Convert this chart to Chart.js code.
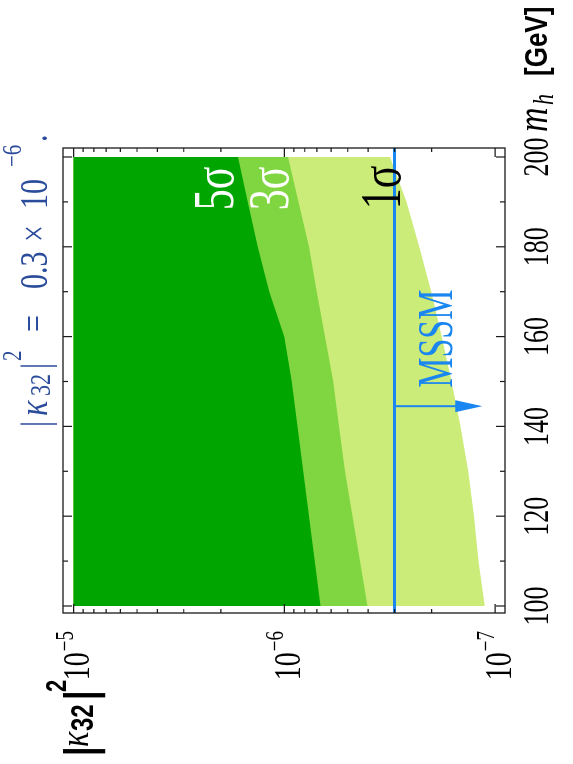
<!DOCTYPE html>
<html><head><meta charset="utf-8">
<script src="https://cdn.jsdelivr.net/npm/chart.js@4/dist/chart.umd.min.js"></script>
<style>
html,body{margin:0;padding:0;background:#fff;overflow:hidden;width:573px;height:764px;}
#wrap{position:absolute;left:0;top:0;width:764px;height:573px;transform-origin:0 0;transform:translate(0px,764px) rotate(-90deg);}
canvas{display:block;}
</style></head><body>
<div id="wrap"><canvas id="c" width="764" height="573"></canvas></div>
<script>
// ---- data (original, un-rotated orientation: x = m_h, y = |kappa32|^2) ----
const mh      = [100, 110, 120, 130, 140, 150, 160, 170, 180, 190, 200];
const sigma5  = [6.74e-7, 7.18e-7, 7.64e-7, 8.14e-7, 8.66e-7, 9.22e-7, 1.00e-6, 1.18e-6, 1.335e-6, 1.49e-6, 1.66e-6];
const sigma3  = [4.03e-7, 4.37e-7, 4.75e-7, 5.16e-7, 5.51e-7, 5.86e-7, 6.41e-7, 7.01e-7, 7.63e-7, 8.56e-7, 9.60e-7];
const sigma1  = [1.12e-7, 1.20e-7, 1.26e-7, 1.34e-7, 1.46e-7, 1.61e-7, 1.79e-7, 2.01e-7, 2.29e-7, 2.63e-7, 3.15e-7];
const kappaTop = 1e-5;
const mssmKappa = 3e-7;
const arrowMh = 144.5, arrowTo = 1.15e-7;
const mhMajor = [100, 120, 140, 160, 180, 200];
const mhMinor = [110, 130, 150, 170, 190];
const mhLabels = ['100', '120', '140', '160', '180', '200'];
const kappaExp = [-5, -6, -7];
const kappaLabels = ['\u22125', '\u22126', '\u22127'];

const C_DARK = '#00a500', C_MED = '#80d640', C_LIGHT = '#cbec79', C_BLUE = '#1a86f0';
const SERIF = "'Liberation Serif', 'DejaVu Serif', serif";
const SANS = "'Liberation Sans', Arial, sans-serif";

function pts(vals) { return mh.map((m, i) => ({x: m, y: vals[i]})); }

function txt(ctx, s, x, y, font, color, align, sy) {
  ctx.save();
  ctx.font = font; ctx.fillStyle = color; ctx.textAlign = align || 'left'; ctx.textBaseline = 'alphabetic';
  ctx.translate(x, y); ctx.scale(1, sy || 1); ctx.fillText(s, 0, 0);
  const w = ctx.measureText(s).width;
  ctx.restore();
  return w;
}

const decor = {
  id: 'decor',
  afterDatasetsDraw(chart) {
    const ctx = chart.ctx, a = chart.chartArea, xs = chart.scales.x, ys = chart.scales.y;
    // MSSM line
    const yb = ys.getPixelForValue(mssmKappa);
    ctx.save();
    ctx.strokeStyle = C_BLUE; ctx.lineWidth = 3;
    ctx.beginPath(); ctx.moveTo(a.left, yb); ctx.lineTo(a.right, yb); ctx.stroke();
    // arrow
    const xa = xs.getPixelForValue(arrowMh), ya = ys.getPixelForValue(arrowTo);
    ctx.lineWidth = 2;
    ctx.beginPath(); ctx.moveTo(xa, yb); ctx.lineTo(xa, ya - 20); ctx.stroke();
    ctx.fillStyle = C_BLUE;
    ctx.beginPath(); ctx.moveTo(xa, ya); ctx.lineTo(xa - 6, ya - 27); ctx.lineTo(xa + 6, ya - 27); ctx.closePath(); ctx.fill();
    ctx.restore();

    // in-plot labels
    txt(ctx, '5\u03c3', xs.getPixelForValue(193), ys.getPixelForValue(1.75e-6), '42px ' + SERIF, '#fff', 'center', 1.35);
    txt(ctx, '3\u03c3', xs.getPixelForValue(193), ys.getPixelForValue(9.6e-7), '42px ' + SERIF, '#fff', 'center', 1.35);
    txt(ctx, '1\u03c3', xs.getPixelForValue(193.2), ys.getPixelForValue(2.82e-7), '42px ' + SERIF, '#000', 'center', 1.35);
    txt(ctx, 'MSSM', xs.getPixelForValue(148.6), ys.getPixelForValue(1.6e-7), '34px ' + SERIF, C_BLUE, 'left', 1.5);

    // frame
    ctx.save();
    ctx.strokeStyle = '#1a1a1a'; ctx.lineWidth = 1.3;
    ctx.strokeRect(a.left, a.top, a.right - a.left, a.bottom - a.top);
    ctx.lineWidth = 1.2;
    ctx.beginPath();
    mhMajor.forEach(m => { const x = xs.getPixelForValue(m);
      ctx.moveTo(x, a.bottom); ctx.lineTo(x, a.bottom - 9); ctx.moveTo(x, a.top); ctx.lineTo(x, a.top + 9); });
    mhMinor.forEach(m => { const x = xs.getPixelForValue(m);
      ctx.moveTo(x, a.bottom); ctx.lineTo(x, a.bottom - 5); ctx.moveTo(x, a.top); ctx.lineTo(x, a.top + 5); });
    kappaExp.forEach(e => { const y = ys.getPixelForValue(Math.pow(10, e));
      ctx.moveTo(a.left, y); ctx.lineTo(a.left + 9, y); ctx.moveTo(a.right, y); ctx.lineTo(a.right - 9, y); });
    [-7, -6].forEach(e => { for (let k = 2; k <= 9; k++) { const y = ys.getPixelForValue(k * Math.pow(10, e));
      ctx.moveTo(a.left, y); ctx.lineTo(a.left + 4, y); ctx.moveTo(a.right, y); ctx.lineTo(a.right - 4, y); } });
    ctx.stroke();
    ctx.restore();

    // tick labels m_h
    mhMajor.forEach((m, i) => txt(ctx, mhLabels[i], xs.getPixelForValue(m), 548, '26px ' + SERIF, '#000', 'center', 1.4));
    // tick labels kappa
    kappaExp.forEach((e, i) => {
      const y = ys.getPixelForValue(Math.pow(10, e));
      const r = a.left - 18;
      ctx.save(); ctx.font = '19px ' + SERIF; const ws = ctx.measureText(kappaLabels[i]).width; ctx.restore();
      txt(ctx, kappaLabels[i], r, y - 1, '19px ' + SERIF, '#000', 'right', 1.35);
      txt(ctx, '10', r - ws - 1, y + 15.5, '28px ' + SERIF, '#000', 'right', 1.35);
    });

    // axis label m_h [GeV]
    txt(ctx, 'm', 632, 547, 'italic 34px ' + SERIF, '#000', 'left', 1.3);
    txt(ctx, 'h', 659, 553, 'italic 22px ' + SERIF, '#000', 'left', 1.3);
    txt(ctx, '[GeV]', 688, 547, 'bold 26px ' + SANS, '#000', 'left', 1.2);

    // axis label |kappa32|^2
    txt(ctx, '|', 8, 95, 'bold 34px ' + SANS, '#000', 'left', 1.3);
    txt(ctx, '\u03ba', 17, 88, 'italic 32px ' + SERIF, '#000', 'left', 1.3);
    txt(ctx, '32', 33, 93, 'bold 24px ' + SANS, '#000', 'left', 1.3);
    txt(ctx, '|', 64, 95, 'bold 34px ' + SANS, '#000', 'left', 1.3);
    txt(ctx, '2', 72, 66, 'bold 22px ' + SANS, '#000', 'left', 1.3);

    // title
    const TC = '#2b4c9b';
    txt(ctx, '|', 337, 48, '30px ' + SERIF, TC, 'left', 1.3);
    txt(ctx, '\u03ba', 348, 47, 'italic 32px ' + SERIF, TC, 'left', 1.3);
    txt(ctx, '32', 368, 50, '22px ' + SERIF, TC, 'left', 1.3);
    txt(ctx, '|', 395, 48, '30px ' + SERIF, TC, 'left', 1.3);
    txt(ctx, '2', 403, 21, '21px ' + SERIF, TC, 'left', 1.3);
    txt(ctx, '=', 432, 47, '30px ' + SERIF, TC, 'left', 1.3);
    txt(ctx, '0.3', 475, 47, '30px ' + SERIF, TC, 'left', 1.3);
    txt(ctx, '\u00d7', 522, 47, '30px ' + SERIF, TC, 'left', 1.3);
    txt(ctx, '10', 555, 47, '30px ' + SERIF, TC, 'left', 1.3);
    txt(ctx, '\u22126', 597, 21, '21px ' + SERIF, TC, 'left', 1.3);
    txt(ctx, '.', 622, 47, '30px ' + SERIF, TC, 'left', 1.3);
  }
};

new Chart(document.getElementById('c'), {
  type: 'line',
  data: {
    datasets: [
      {label: '5 sigma', data: pts(sigma5), backgroundColor: C_DARK, borderWidth: 0, pointRadius: 0, fill: {value: kappaTop}, tension: 0},
      {label: '3 sigma', data: pts(sigma3), backgroundColor: C_MED, borderWidth: 0, pointRadius: 0, fill: {value: kappaTop}, tension: 0},
      {label: '1 sigma', data: pts(sigma1), backgroundColor: C_LIGHT, borderWidth: 0, pointRadius: 0, fill: {value: kappaTop}, tension: 0}
    ]
  },
  options: {
    responsive: false, animation: false, devicePixelRatio: 1,
    layout: {padding: {left: 151, right: 148, top: 63, bottom: 68}},
    plugins: {legend: {display: false}, tooltip: {enabled: false}},
    scales: {
      x: {type: 'linear', min: 98.44, max: 202, display: false},
      y: {type: 'logarithmic', min: Math.pow(10, -7.047), max: Math.pow(10, -4.95), display: false}
    }
  },
  plugins: [decor]
});
</script>
</body></html>
